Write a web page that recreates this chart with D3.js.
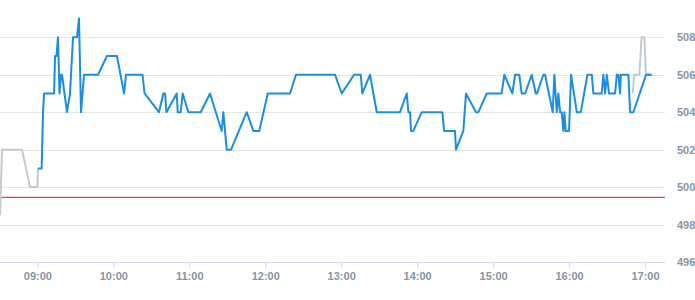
<!DOCTYPE html>
<html>
<head>
<meta charset="utf-8">
<script src="https://cdn.jsdelivr.net/npm/d3@7"></script>
<style>
  body { margin: 0; background: #fff; }
  svg { display: block; font-family: "Open Sans", sans-serif; }
  .tick text { fill: #8795a3; font-size: 11px; font-weight: 600; }
</style>
</head>
<body>
<div id="chart"></div>
<script>
// session prices (blue)
var sessionTimes = ["09:00:30","09:03:24","09:04:30","09:05:18","09:13:12","09:14:00","09:15:06","09:16:18","09:17:30","09:18:42",
  "09:19:30","09:23:24","09:25:48","09:28:12","09:31:18","09:32:54","09:34:30","09:36:54","09:47:54","09:55:00",
  "10:02:54","10:08:30","10:10:00","10:23:06","10:24:42","10:36:06","10:39:30","10:40:54","10:42:00","10:50:06",
  "10:50:54","10:53:18","10:54:48","10:59:18","11:09:06","11:16:24","11:25:36","11:26:54","11:29:36","11:33:00",
  "11:45:24","11:50:36","11:55:18","12:02:00","12:19:36","12:24:18","12:55:12","13:00:24","13:10:12","13:15:30",
  "13:16:42","13:22:48","13:28:06","13:46:30","13:51:48","13:53:06","13:54:24","13:55:12","13:57:00","14:03:36",
  "14:19:54","14:21:18","14:29:54","14:30:42","14:36:30","14:38:36","14:46:30","14:48:24","14:55:00","15:06:48",
  "15:08:54","15:15:12","15:17:24","15:20:42","15:22:36","15:25:18","15:30:30","15:33:42","15:34:42","15:39:42",
  "15:41:06","15:47:06","15:48:24","15:50:18","15:51:36","15:52:54","15:54:12","15:55:30","15:56:18","15:57:24",
  "16:00:00","16:01:36","16:06:06","16:09:18","16:14:30","16:18:00","16:19:12","16:25:48","16:27:06","16:28:30",
  "16:29:48","16:31:36","16:36:24","16:37:42","16:39:00","16:40:18","16:40:54","16:46:54","16:48:12","16:50:48",
  "17:00:48","17:05:18"];
var sessionPrices = [501,501,504,505,505,507,507,508,505,506,
  506,504,505,508,508,509,504,506,506,507,
  507,505,506,506,505,504,505,505,504,505,
  504,504,505,504,504,505,503,504,502,502,
  504,503,503,505,505,506,506,505,506,506,
  505,506,504,504,505,504,504,503,503,504,
  504,503,503,502,503,505,504,504,505,505,
  506,505,506,506,505,505,506,505,505,506,
  506,504,506,504,505,504,504,503,504,503,
  503,506,504,504,506,506,505,505,506,505,
  506,505,505,506,506,505,506,506,504,504,
  506,506];

// pre-market (grey)
var preTimes = ["08:30:30","08:32:06","08:47:54","08:54:12","09:00:06","09:00:30"];
var prePrices = [498.5,502,502,500,500,501];

// after-hours (grey)
var postTimes = ["16:50:18","16:51:24","16:55:30","16:57:18","16:59:30","17:00:48","17:05:18"];
var postPrices = [505,506,506,508,508,506,506];

var prevClose = 499.45;
var yTicks = [496,498,500,502,504,506,508];
var xTicks = ["09:00","10:00","11:00","12:00","13:00","14:00","15:00","16:00","17:00"];

var width = 695, height = 300, plotW = 665;
var parseT = d3.timeParse("%H:%M:%S");
var parseH = d3.timeParse("%H:%M");

function series(times, prices) {
  return times.map(function(t, i) { return {t: parseT(t), v: prices[i]}; });
}

var svg = d3.select("#chart").append("svg")
  .attr("width", width)
  .attr("height", height);

var x = d3.scaleTime()
  .domain([parseT("08:30:30"), parseT("17:15:48")])
  .range([0, plotW]);

var y = d3.scaleLinear()
  .domain([496, 508])
  .range([262, 37.3]);

// grid
svg.append("g").selectAll("line")
  .data(yTicks.slice(1))
  .enter().append("line")
  .attr("x1", 0).attr("x2", plotW)
  .attr("y1", function(d) { return Math.round(y(d)) + 0.5; })
  .attr("y2", function(d) { return Math.round(y(d)) + 0.5; })
  .attr("stroke", "#e6e6e6");

// y axis labels on the right
var yAxis = svg.append("g")
  .attr("transform", "translate(" + plotW + ",0)")
  .call(d3.axisRight(y).tickValues(yTicks).tickSize(0).tickPadding(12).tickFormat(d3.format("d")));
yAxis.select(".domain").remove();

// x axis
var xAxis = svg.append("g")
  .attr("transform", "translate(0," + (Math.round(y(496)) + 0.5) + ")")
  .call(d3.axisBottom(x).tickValues(xTicks.map(parseH)).tickSize(5).tickPadding(5).tickFormat(d3.timeFormat("%H:%M")));
xAxis.select(".domain").attr("stroke", "#ccd6eb").attr("d", "M0,0H" + plotW);
xAxis.selectAll(".tick line").attr("stroke", "#ccd6eb");

// previous close
svg.append("line")
  .attr("x1", 0).attr("x2", plotW)
  .attr("y1", y(prevClose)).attr("y2", y(prevClose))
  .attr("stroke", "#e8453c")
  .attr("stroke-width", 1.2);

var line = d3.line()
  .x(function(d) { return x(d.t); })
  .y(function(d) { return y(d.v); });

svg.append("path")
  .datum(series(preTimes, prePrices))
  .attr("d", line)
  .attr("fill", "none")
  .attr("stroke", "#c3cbd2")
  .attr("stroke-width", 2);

svg.append("path")
  .datum(series(postTimes, postPrices))
  .attr("d", line)
  .attr("fill", "none")
  .attr("stroke", "#c3cbd2")
  .attr("stroke-width", 2);

svg.append("path")
  .datum(series(sessionTimes, sessionPrices))
  .attr("d", line)
  .attr("fill", "none")
  .attr("stroke", "#1a8fe0")
  .attr("stroke-width", 2)
  .attr("stroke-linejoin", "round");
</script>
</body>
</html>
